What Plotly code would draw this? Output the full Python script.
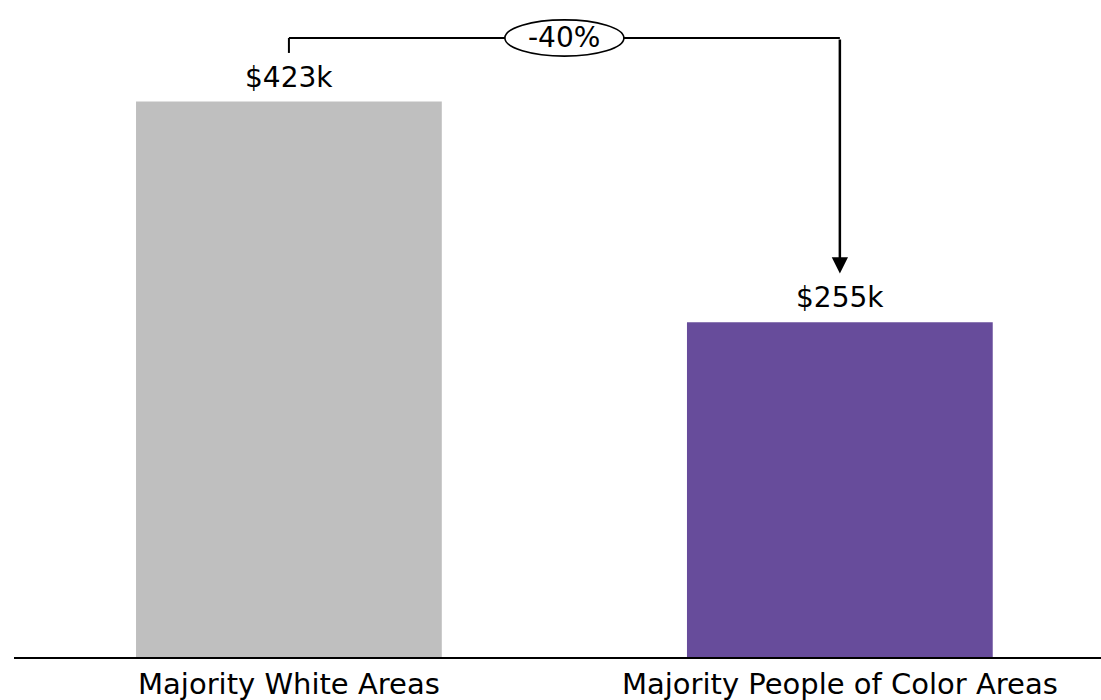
import plotly.graph_objects as go

# ---- data ----
categories = ["Majority White Areas", "Majority People of Color Areas"]
values = [423, 255]          # median value, $ thousands
bar_colors = ["#bfbfbf", "#674c9b"]
change_pct = round((values[1] - values[0]) / values[0] * 100)   # -40
change_label = f"{change_pct}%"
value_labels = [f"${v}k" for v in values]

FONT = "DejaVu Sans"

fig = go.Figure(
    go.Bar(
        x=categories,
        y=values,
        marker=dict(color=bar_colors, line_width=0),
        width=0.555,
        hoverinfo="skip",
    )
)

fig.update_layout(
    width=1101,
    height=700,
    margin=dict(l=14, r=0, t=10, b=43),
    plot_bgcolor="white",
    paper_bgcolor="white",
    showlegend=False,
    font=dict(family=FONT, color="black", size=28),
)
fig.update_xaxes(
    range=[-0.499, 1.474],
    showline=True,
    linecolor="black",
    linewidth=2,
    ticks="",
    showgrid=False,
    tickfont=dict(size=29, family=FONT, color="black"),
    automargin=False,
)
fig.update_yaxes(range=[0, 492.7], visible=False, automargin=False)

# value labels above bars
for cat, v, lab in zip(categories, values, value_labels):
    fig.add_annotation(
        x=cat, y=v, text=lab, showarrow=False, yanchor="bottom", yshift=6,
        font=dict(size=28, family=FONT, color="black"),
    )

# bracket connecting the two bars
leg_off = 37
bracket_y = values[0] + 48.4
fig.add_shape(type="line", x0=0, x1=0, y0=values[0] + leg_off, y1=bracket_y,
              line=dict(color="black", width=2), layer="above")
fig.add_shape(type="line", x0=0, x1=1, y0=bracket_y, y1=bracket_y,
              line=dict(color="black", width=2), layer="above")
fig.add_shape(type="circle", x0=0.5 - 0.108, x1=0.5 + 0.108,
              y0=bracket_y - 13.8, y1=bracket_y + 13.8,
              fillcolor="white", line=dict(color="black", width=1.6), layer="above")
fig.add_annotation(x=0.5, y=bracket_y, text=change_label, showarrow=False,
                   font=dict(size=28, family=FONT, color="black"))
fig.add_annotation(
    x=1, y=values[1] + leg_off, ax=1, ay=bracket_y, axref="x", ayref="y",
    text="", showarrow=True, arrowhead=2, arrowsize=1.3, arrowwidth=2.5,
    arrowcolor="black", standoff=0,
)

fig.write_html("out.html")
